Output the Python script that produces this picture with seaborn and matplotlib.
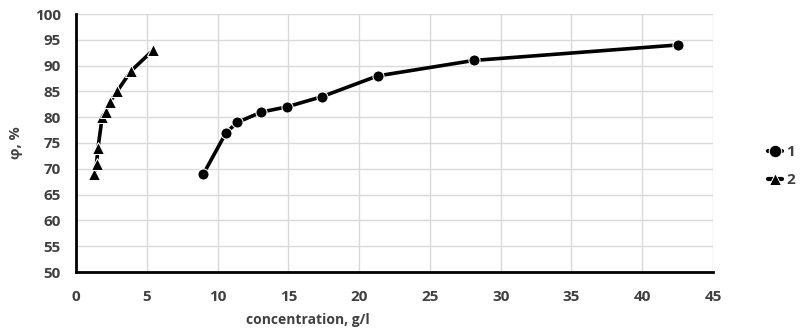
import matplotlib
matplotlib.use("Agg")
import matplotlib.pyplot as plt
import seaborn as sns
import pandas as pd

# series 1 (circles)
conc_1 = [9.0, 10.6, 11.4, 13.1, 14.9, 17.4, 21.3, 28.1, 42.5]
phi_1 = [69, 77, 79, 81, 82, 84, 88, 91, 94]

# series 2 (triangles)
conc_2 = [1.3, 1.45, 1.55, 1.85, 2.1, 2.4, 2.9, 3.9, 5.45]
phi_2 = [69, 71, 74, 80, 81, 83, 85, 89, 93]

x_ticks = list(range(0, 46, 5))
y_ticks = list(range(50, 101, 5))

df = pd.concat([
    pd.DataFrame({"conc": conc_1, "phi": phi_1, "series": "1"}),
    pd.DataFrame({"conc": conc_2, "phi": phi_2, "series": "2"}),
])

sns.set_style("white")
plt.rcParams['font.family'] = ['Open Sans', 'DejaVu Sans']

fig = plt.figure(figsize=(8.07, 3.28), dpi=100)
ax = fig.add_axes([76 / 807, 1 - 272 / 328, (713 - 76) / 807, (272 - 14) / 328])

sns.lineplot(data=df, x="conc", y="phi", hue="series", style="series",
             markers={"1": "o", "2": "^"}, dashes=False,
             palette={"1": "black", "2": "black"}, linewidth=2.6,
             markersize=8, sort=False, estimator=None, ax=ax)

ax.set_xlim(0, 45)
ax.set_ylim(50, 100)
ax.set_xticks(x_ticks)
ax.set_yticks(y_ticks)
ax.grid(True, color="#d9d9d9", linewidth=1)
ax.set_axisbelow(True)
for s in ["top", "right"]:
    ax.spines[s].set_visible(False)
for s in ["left", "bottom"]:
    ax.spines[s].set_color("black")
    ax.spines[s].set_linewidth(2)
ax.tick_params(axis="x", length=0, labelsize=11, colors="#404040", pad=13)
ax.tick_params(axis="y", length=0, labelsize=11, colors="#404040", pad=11)
for lbl in ax.get_xticklabels() + ax.get_yticklabels():
    lbl.set_fontweight("bold")
ax.set_xlabel("concentration, g/l", fontsize=10, fontweight="bold", color="#404040")
ax.xaxis.set_label_coords(0.364, -0.16)
ax.set_ylabel("φ, %", fontsize=10.5, fontweight="bold", color="#404040")
ax.yaxis.set_label_coords(-0.083, 0.5)

leg = ax.legend(loc="center left", bbox_to_anchor=(1.065, 0.41), frameon=False,
                fontsize=11, handlelength=0.9, handletextpad=0.3, labelspacing=0.95)
for h in leg.legend_handles:
    h.set_linewidth(3)
    h.set_markersize(9)
for t in leg.get_texts():
    t.set_fontweight("bold")
    t.set_color("#404040")

fig.savefig("out.png", dpi=100)
